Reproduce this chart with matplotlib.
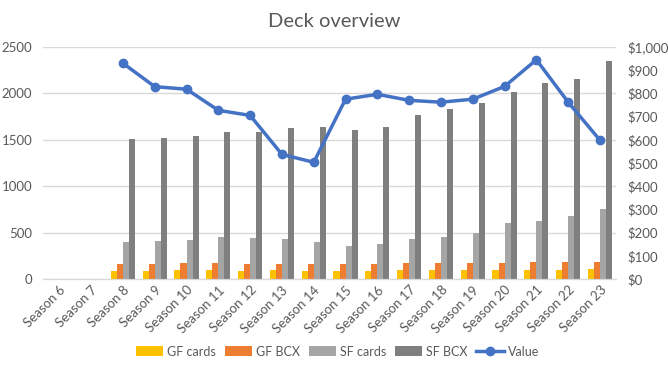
import numpy as np
import matplotlib
matplotlib.use("Agg")
import matplotlib.pyplot as plt
from matplotlib.ticker import FuncFormatter

plt.rcParams["font.family"] = ["Lato", "DejaVu Sans"]

# data
seasons = ["Season %d" % s for s in range(6, 24)]
nan = np.nan
gf_cards = [nan, nan, 86, 86, 97, 97, 86, 97, 86, 86, 86, 97, 97, 97, 97, 97, 97, 108]
gf_bcx = [nan, nan, 162, 162, 172, 172, 162, 162, 162, 162, 162, 172, 172, 172, 172, 183, 183, 183]
sf_cards = [nan, nan, 399, 409, 420, 453, 442, 431, 399, 356, 377, 431, 453, 496, 603, 625, 679, 754]
sf_bcx = [nan, nan, 1508, 1519, 1541, 1584, 1584, 1627, 1638, 1606, 1638, 1767, 1832, 1897, 2015, 2112, 2155, 2349]
value = [nan, nan, 930, 829, 818, 727, 705, 537, 503, 775, 796, 770, 762, 775, 830, 945, 762, 598]

colors = ["#FFC000", "#ED7D31", "#A5A5A5", "#7F7F7F"]
labels = ["GF cards", "GF BCX", "SF cards", "SF BCX"]
text_col = "#595959"

fig = plt.figure(figsize=(6.68, 3.70), dpi=100)
ax = fig.add_axes([0.065, 0.246, 0.857, 0.627])
ax2 = ax.twinx()

x = np.arange(len(seasons))
w = 0.19
for i, (vals, c, lab) in enumerate(zip([gf_cards, gf_bcx, sf_cards, sf_bcx], colors, labels)):
    ax.bar(x + (i - 1.5) * w, vals, width=w, color=c, label=lab, zorder=2)

ax2.plot(x, value, color="#4472C4", lw=2.5, marker="o", ms=6, label="Value", zorder=3)

ax.set_xlim(-0.5, len(seasons) - 0.5)
ax.set_ylim(0, 2500)
ax.set_yticks(range(0, 2501, 500))
ax2.set_ylim(0, 1000)
ax2.set_yticks(range(0, 1001, 100))
ax2.yaxis.set_major_formatter(FuncFormatter(lambda v, p: "${:,.0f}".format(v)))

ax.set_xticks(x)
ax.set_xticklabels(seasons, rotation=45, ha="right", rotation_mode="anchor")

ax.grid(axis="y", color="#D9D9D9", lw=1, zorder=0)
for a in (ax, ax2):
    for s in ("top", "left", "right"):
        a.spines[s].set_visible(False)
    a.spines["bottom"].set_color("#D9D9D9")
    a.tick_params(length=0, colors=text_col, labelsize=9.5)
ax.tick_params(axis="y", pad=8)
ax2.tick_params(axis="y", pad=8)

fig.suptitle("Deck overview", y=0.965, fontsize=14.5, color=text_col)

h1, l1 = ax.get_legend_handles_labels()
h2, l2 = ax2.get_legend_handles_labels()
fig.legend(h1 + h2, l1 + l2, loc="center", bbox_to_anchor=(0.505, 0.05), ncol=5,
           frameon=False, fontsize=9, labelcolor=text_col,
           handlelength=2.2, handleheight=0.9, columnspacing=0.7, handletextpad=0.3)

fig.savefig("out.png", dpi=100)
